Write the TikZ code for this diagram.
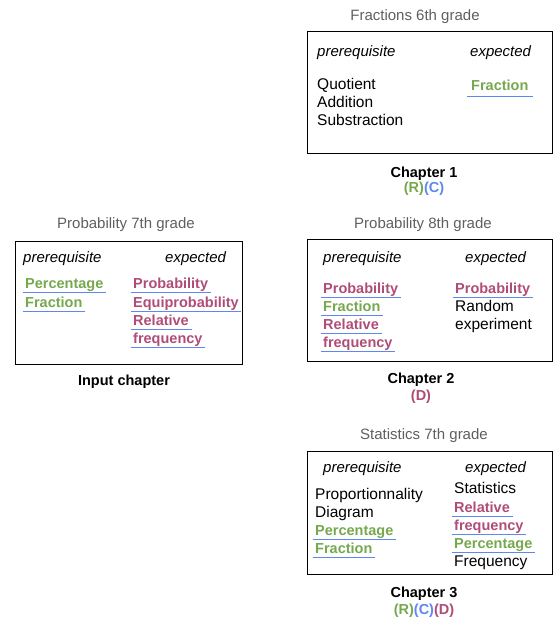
\documentclass[tikz,border=0pt]{standalone}
\usepackage{fontspec}
\setmainfont{Liberation Sans}
\usetikzlibrary{calc}
\definecolor{cgreen}{RGB}{118,168,78}
\definecolor{cpink}{RGB}{176,76,118}
\definecolor{cblue}{RGB}{95,135,240}
\definecolor{cgray}{RGB}{95,95,95}
\tikzset{
  txt/.style={anchor=base west,inner sep=0pt,font=\fontsize{15.5}{18}\selectfont},
  hd/.style={txt,font=\fontsize{15}{18}\selectfont\itshape},
  gw/.style={txt,font=\fontsize{14.5}{18}\selectfont\bfseries,text=cgreen},
  pw/.style={txt,font=\fontsize{14.5}{18}\selectfont\bfseries,text=cpink},
  ttl/.style={anchor=base,inner sep=0pt,font=\fontsize{15}{18}\selectfont,text=cgray},
  chap/.style={anchor=base,inner sep=0pt,font=\fontsize{14.5}{18}\selectfont\bfseries},
  box/.style={draw=black,line width=1pt},
  ul/.style={draw=cblue,line width=1pt}
}
\newcommand{\ulin}[1]{\draw[ul] ($(#1.base west)+(-2.5,4.5)$) -- ($(#1.base east)+(2.5,4.5)$);}
\begin{document}
\begin{tikzpicture}[x=1pt,y=-1pt]
\useasboundingbox (0,0) rectangle (553,620);
% Box 1
\node[ttl] (t1) at (415,21) {Fractions 6th grade};
\draw[box] (307,32) rectangle (552.5,154);
\node[hd] (p1) at (317,57) {prerequisite};
\node[hd] (e1) at (470,57) {expected};
\node[txt] (q1) at (317,90) {Quotient};
\node[txt] (a1) at (317,108) {Addition};
\node[txt] (s1) at (317,126) {Substraction};
\node[gw] (f1) at (471,91) {Fraction};
\draw[ul] ($(f1.base west)+(-4,6)$) -- ($(f1.base east)+(4,6)$);
\node[chap] (c1) at (424,178) {Chapter 1};
\node[chap] (r1) at (424,193) {\textcolor{cgreen}{(R)}\textcolor{cblue}{(C)}};
% Box 2
\node[ttl] (t2) at (126,229) {Probability 7th grade};
\draw[box] (15,241) rectangle (242,364);
\node[hd] (p2) at (23,262) {prerequisite};
\node[hd] (e2) at (165,262) {expected};
\node[gw] (g2a) at (25,288) {Percentage};
\node[gw] (g2b) at (25,307) {Fraction};
\node[pw] (k2a) at (133,288) {Probability};
\node[pw] (k2b) at (133,307) {Equiprobability};
\node[pw] (k2c) at (133,325) {Relative};
\node[pw] (k2d) at (133,343) {frequency};
\ulin{g2a}\ulin{g2b}\ulin{k2a}\ulin{k2b}\ulin{k2c}\ulin{k2d}
\node[chap] (c2) at (124,385) {Input chapter};
% Box 3
\node[ttl] (t3) at (423,229) {Probability 8th grade};
\draw[box] (307,239) rectangle (552.5,361);
\node[hd] (p3) at (323,262) {prerequisite};
\node[hd] (e3) at (465,262) {expected};
\node[pw] (k3a) at (323,293) {Probability};
\node[gw] (g3a) at (323,311) {Fraction};
\node[pw] (k3b) at (323,329) {Relative};
\node[pw] (k3c) at (323,347) {frequency};
\node[pw] (k3d) at (455,293) {Probability};
\node[txt] (r3a) at (455,311) {Random};
\node[txt] (r3b) at (455,329) {experiment};
\ulin{k3a}\ulin{g3a}\ulin{k3b}\ulin{k3c}\ulin{k3d}
\node[chap] (c3) at (421,383) {Chapter 2};
\node[chap] (d3) at (421,400) {\textcolor{cpink}{(D)}};
% Box 4
\node[ttl] (t4) at (424,439) {Statistics 7th grade};
\draw[box] (307,451) rectangle (552.5,574);
\node[hd] (p4) at (323,472) {prerequisite};
\node[hd] (e4) at (465,472) {expected};
\node[txt] (x4a) at (315,499) {Proportionnality};
\node[txt] (x4b) at (315,517) {Diagram};
\node[gw] (g4a) at (315,535) {Percentage};
\node[gw] (g4b) at (315,553) {Fraction};
\node[txt] (y4a) at (454,493) {Statistics};
\node[pw] (k4a) at (454,512) {Relative};
\node[pw] (k4b) at (454,530) {frequency};
\node[gw] (g4c) at (454,548) {Percentage};
\node[txt] (y4b) at (454,566) {Frequency};
\ulin{g4a}\ulin{g4b}\ulin{k4a}\ulin{k4b}\ulin{g4c}
\node[chap] (c4) at (424,597) {Chapter 3};
\node[chap] (d4) at (424,614) {\textcolor{cgreen}{(R)}\textcolor{cblue}{(C)}\textcolor{cpink}{(D)}};
\end{tikzpicture}
\end{document}
